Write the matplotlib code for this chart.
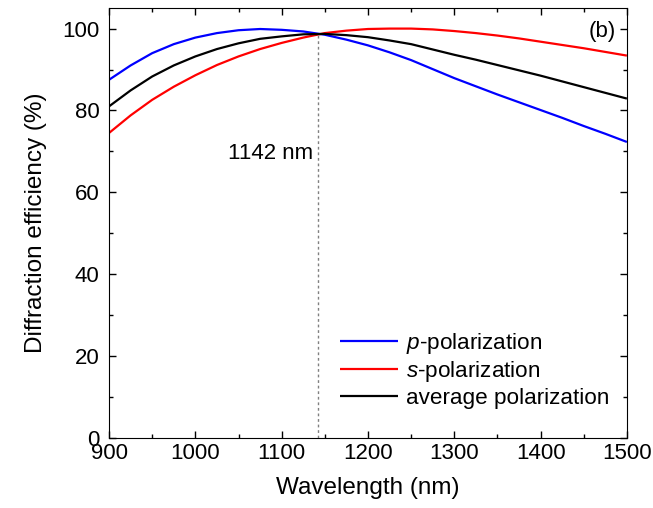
import matplotlib
matplotlib.use("Agg")
import matplotlib.pyplot as plt
from matplotlib.ticker import MultipleLocator

# wavelength samples (nm)
wavelength = [900, 925, 950, 975, 1000, 1025, 1050, 1075, 1100, 1125, 1150, 1175, 1200,
              1225, 1250, 1275, 1300, 1325, 1350, 1375, 1400, 1425, 1450, 1475, 1500]

# diffraction efficiency (%)
p_pol = [87.5, 91.0, 94.0, 96.2, 97.8, 98.9, 99.6, 99.9, 99.7, 99.3, 98.5, 97.3, 95.9,
         94.2, 92.3, 90.1, 87.9, 85.9, 83.9, 82.0, 80.1, 78.2, 76.2, 74.3, 72.3]
s_pol = [74.5, 78.8, 82.6, 85.8, 88.6, 91.1, 93.2, 95.0, 96.5, 97.8, 98.9, 99.5, 99.9,
         100.0, 100.0, 99.8, 99.4, 98.9, 98.3, 97.6, 96.8, 96.0, 95.2, 94.3, 93.4]
avg_pol = [81.0, 84.9, 88.3, 91.0, 93.2, 95.0, 96.4, 97.5, 98.1, 98.6, 98.7, 98.4, 97.9,
           97.1, 96.2, 94.9, 93.6, 92.4, 91.1, 89.8, 88.5, 87.1, 85.7, 84.3, 82.9]

cross_wl = 1142
cross_eff = 98.7

plt.rcParams['font.family'] = ['Liberation Sans', 'DejaVu Sans']
plt.rcParams['mathtext.fontset'] = 'custom'
plt.rcParams['mathtext.it'] = 'Liberation Sans:italic'
plt.rcParams['mathtext.rm'] = 'Liberation Sans'

fig = plt.figure(figsize=(6.53, 5.08), dpi=100)
ax = fig.add_axes([0.167, 0.138, 0.793, 0.846])

line_kw = dict(lw=1.6, solid_joinstyle='round', solid_capstyle='butt')
ax.plot(wavelength, p_pol, color='#0000ff', label='$p$-polarization', **line_kw)
ax.plot(wavelength, s_pol, color='#ff0000', label='$s$-polarization', **line_kw)
ax.plot(wavelength, avg_pol, color='black', label='average polarization', **line_kw)
ax.plot([cross_wl, cross_wl], [0, cross_eff], color='gray', lw=1, ls=(0, (2, 2)))

ax.text(1136, 69.5, f'{cross_wl} nm', ha='right', va='center', fontsize=16)
ax.text(1487, 99.3, '(b)', ha='right', va='center', fontsize=16)

ax.set_xlim(900, 1500)
ax.set_ylim(0, 105)
ax.xaxis.set_major_locator(MultipleLocator(100))
ax.xaxis.set_minor_locator(MultipleLocator(50))
ax.yaxis.set_major_locator(MultipleLocator(20))
ax.yaxis.set_minor_locator(MultipleLocator(10))
ax.tick_params(which='both', direction='in', top=True, right=True, labelsize=16, width=1)
ax.tick_params(which='major', length=5)
ax.tick_params(which='minor', length=3)
ax.tick_params(axis='y', pad=7)
ax.tick_params(axis='x', pad=4)

ax.set_xlabel('Wavelength (nm)', fontsize=17.5, labelpad=9)
ax.set_ylabel('Diffraction efficiency (%)', fontsize=17.5, labelpad=11)

ax.legend(loc='lower right', frameon=False, fontsize=16.2, handlelength=2.6,
          handletextpad=0.35, labelspacing=0.15, borderaxespad=1.0,
          bbox_to_anchor=(1.027, -0.005))

fig.savefig('out.png', dpi=100)
